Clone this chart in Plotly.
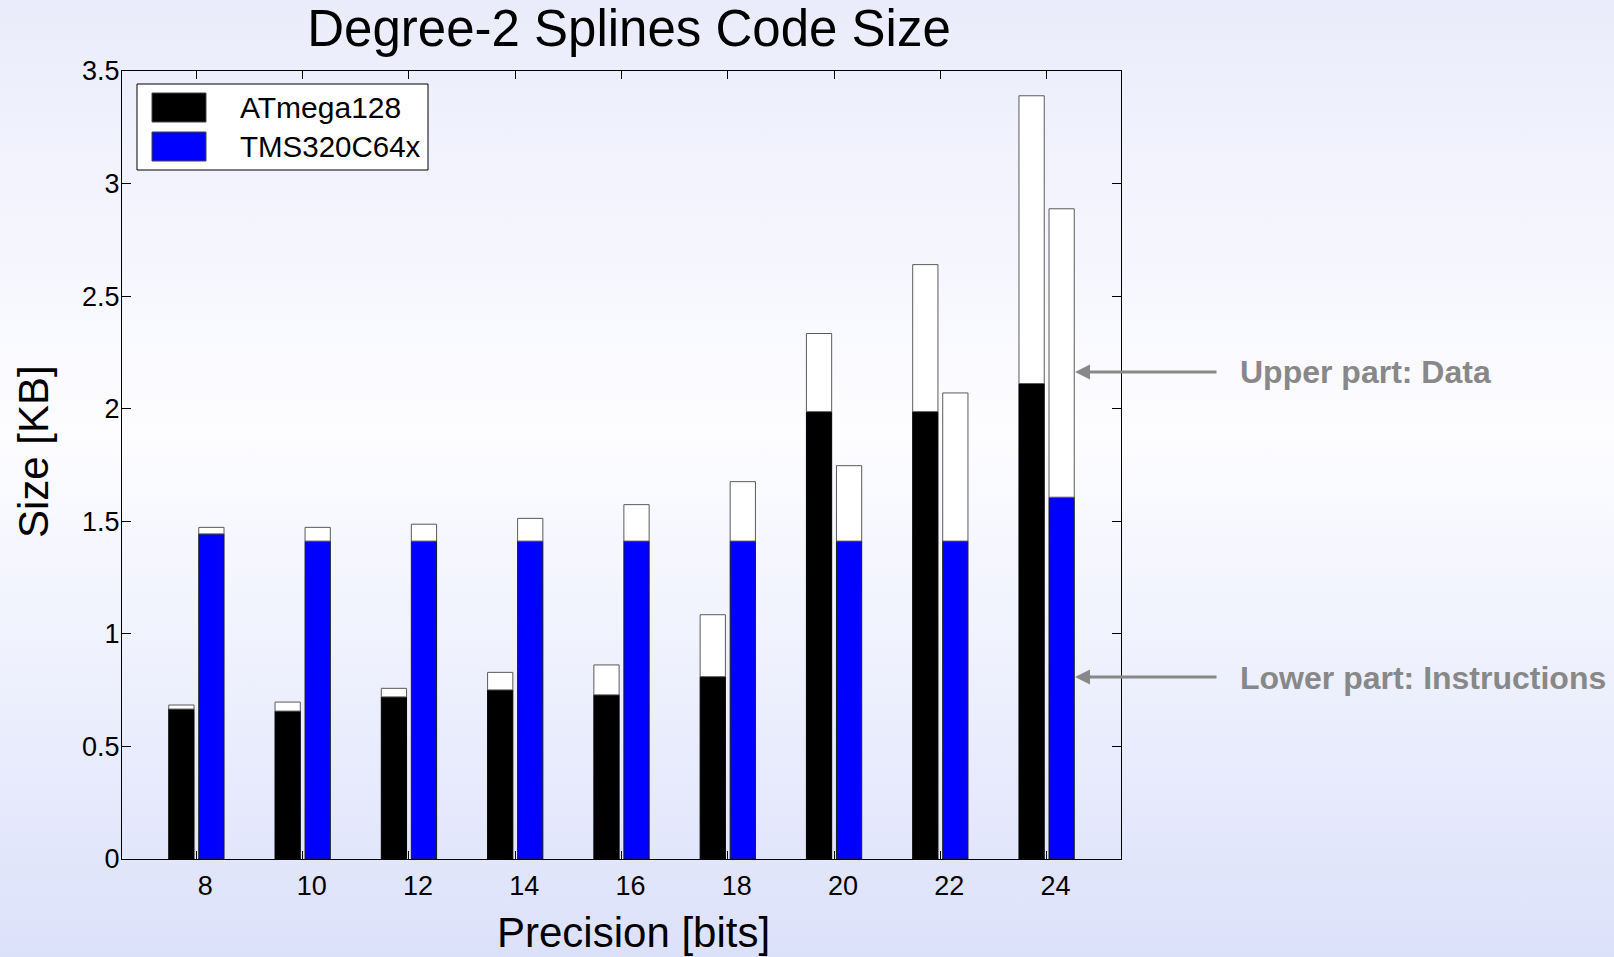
import base64
import plotly.graph_objects as go

# ---------------- data ----------------
precision = [8, 10, 12, 14, 16, 18, 20, 22, 24]
atmega_instr = [0.666, 0.657, 0.720, 0.751, 0.729, 0.810, 1.987, 1.987, 2.112]
atmega_total = [0.684, 0.697, 0.758, 0.829, 0.862, 1.085, 2.334, 2.640, 3.390]
tms_instr = [1.444, 1.412, 1.412, 1.412, 1.412, 1.412, 1.412, 1.412, 1.607]
tms_total = [1.473, 1.473, 1.487, 1.513, 1.574, 1.676, 1.747, 2.070, 2.888]
series_names = ["ATmega128", "TMS320C64x"]
y_ticks = [0, 0.5, 1, 1.5, 2, 2.5, 3, 3.5]
y_tick_text = ["0", "0.5", "1", "1.5", "2", "2.5", "3", "3.5"]

atmega_data = [t - i for t, i in zip(atmega_total, atmega_instr)]
tms_data = [t - i for t, i in zip(tms_total, tms_instr)]

# ---------------- layout geometry ----------------
W, H = 1614, 957
L, R, T, B = 122, 493, 71, 98
PW, PH = W - L - R, H - T - B
FONT = "Liberation Sans, Arial, Helvetica, sans-serif"


def px(x):
    return (x - L) / PW


def py(y):
    return (H - B - y) / PH


BW = 0.475
fig = go.Figure()
fig.add_bar(x=precision, y=atmega_instr, offset=-0.52, width=BW, name=series_names[0],
            marker=dict(color="#000000", line=dict(color="#000000", width=1)), showlegend=False)
fig.add_bar(x=precision, y=atmega_data, base=atmega_instr, offset=-0.52, width=BW,
            name=series_names[0] + " data",
            marker=dict(color="#ffffff", line=dict(color="#5a5a5a", width=1)), showlegend=False)
fig.add_bar(x=precision, y=tms_instr, offset=0.045, width=BW, name=series_names[1],
            marker=dict(color="#0000ff", line=dict(color="#1a1a1a", width=1)), showlegend=False)
fig.add_bar(x=precision, y=tms_data, base=tms_instr, offset=0.045, width=BW,
            name=series_names[1] + " data",
            marker=dict(color="#ffffff", line=dict(color="#5a5a5a", width=1)), showlegend=False)

# background gradient image
svg = (
    f'<svg xmlns="http://www.w3.org/2000/svg" width="{W}" height="{H}" viewBox="0 0 {W} {H}" '
    f'preserveAspectRatio="none"><defs><linearGradient id="g" x1="0" y1="0" x2="0" y2="1">'
    f'<stop offset="0" stop-color="#eaecfb"/><stop offset="0.45" stop-color="#fdfdff"/>'
    f'<stop offset="1" stop-color="#dce1fa"/></linearGradient></defs>'
    f'<rect width="{W}" height="{H}" fill="url(#g)"/></svg>'
)
bg_src = "data:image/svg+xml;base64," + base64.b64encode(svg.encode()).decode()

shapes = [
    dict(type="rect", xref="paper", yref="paper", x0=px(137), x1=px(428), y0=py(84), y1=py(170),
         fillcolor="#ffffff", line=dict(color="#000000", width=1)),
    dict(type="rect", xref="paper", yref="paper", x0=px(152), x1=px(206), y0=py(93), y1=py(122),
         fillcolor="#000000", line=dict(color="#444444", width=1)),
    dict(type="rect", xref="paper", yref="paper", x0=px(152), x1=px(206), y0=py(132), y1=py(161),
         fillcolor="#0000ff", line=dict(color="#444444", width=1)),
]

annotations = [
    dict(text=series_names[0], x=px(238), y=py(107.5), xref="paper", yref="paper",
         xanchor="left", yanchor="middle", showarrow=False, font=dict(size=30, color="#000000")),
    dict(text=series_names[1], x=px(238), y=py(146.5), xref="paper", yref="paper",
         xanchor="left", yanchor="middle", showarrow=False, font=dict(size=29.5, color="#000000")),
    # axis titles
    dict(text="Precision [bits]", x=px(633.5), y=py(932), xref="paper", yref="paper",
         xanchor="center", yanchor="middle", showarrow=False, font=dict(size=42, color="#000000")),
    dict(text="Size [KB]", x=px(33), y=py(452), xref="paper", yref="paper", textangle=-90,
         xanchor="center", yanchor="middle", showarrow=False, font=dict(size=42, color="#000000")),
    # side notes
    dict(text="", x=px(1075), y=py(372), xref="paper", yref="paper", showarrow=True,
         ax=143, ay=0, arrowhead=2, arrowsize=1, arrowwidth=3, arrowcolor="#888888"),
    dict(text="", x=px(1075), y=py(677), xref="paper", yref="paper", showarrow=True,
         ax=143, ay=0, arrowhead=2, arrowsize=1, arrowwidth=3, arrowcolor="#888888"),
    dict(text="<b>Upper part: Data</b>", x=px(1238), y=py(372), xref="paper", yref="paper",
         xanchor="left", yanchor="middle", showarrow=False, font=dict(size=32, color="#888888")),
    dict(text="<b>Lower part: Instructions</b>", x=px(1238), y=py(678), xref="paper", yref="paper",
         xanchor="left", yanchor="middle", showarrow=False, font=dict(size=32, color="#888888")),
]

fig.update_layout(
    width=W, height=H,
    margin=dict(l=L, r=R, t=T, b=B, pad=0),
    barmode="overlay",
    paper_bgcolor="#eef0fc",
    plot_bgcolor="#ffffff",
    font=dict(family=FONT, color="#000000"),
    title=dict(text="Degree-2 Splines Code Size", x=629 / W, xref="container", xanchor="center",
               y=1 - 28 / H, yref="container", yanchor="middle",
               font=dict(size=51, color="#000000", family=FONT)),
    xaxis=dict(range=[6.6, 25.4], tickvals=precision, ticktext=[str(p) for p in precision],
               ticks="inside", ticklen=8, tickcolor="#000000", showline=True, linecolor="#000000",
               linewidth=1, mirror="ticks", showgrid=False, zeroline=False,
               ticklabelshift=9, ticklabelstandoff=3,
               tickfont=dict(size=27, color="#000000")),
    yaxis=dict(range=[0, 3.5], tickvals=y_ticks, ticktext=y_tick_text,
               ticks="inside", ticklen=9, tickcolor="#000000", showline=True, linecolor="#000000",
               linewidth=1, mirror="ticks", showgrid=False, zeroline=False,
               ticklabelstandoff=-4,
               tickfont=dict(size=27, color="#000000")),
    shapes=shapes,
    annotations=annotations,
    images=[dict(source=bg_src, xref="paper", yref="paper", x=px(0), y=py(0),
                 sizex=W / PW, sizey=H / PH, xanchor="left", yanchor="top",
                 sizing="stretch", layer="below")],
)

fig.write_html("out.html")
